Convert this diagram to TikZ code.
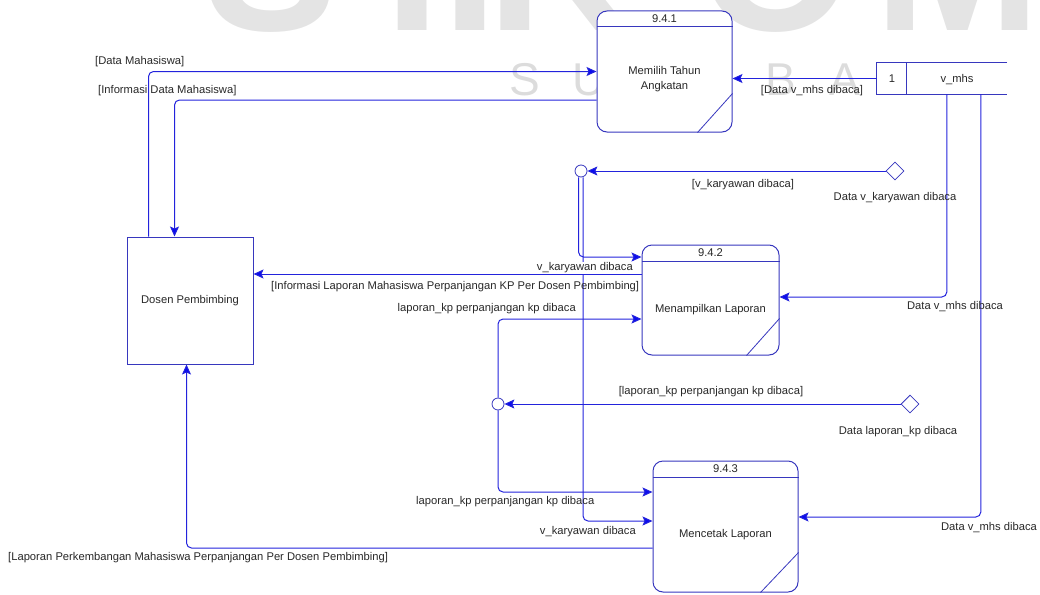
\documentclass[tikz,border=0pt]{standalone}
\usepackage{fontspec}
\setmainfont{Liberation Sans}
\usetikzlibrary{arrows.meta,shapes.geometric,calc}
\definecolor{flowblue}{RGB}{35,35,220}
\definecolor{tipblue}{RGB}{10,10,240}
\definecolor{boxblue}{RGB}{55,55,190}
\definecolor{ink}{RGB}{40,40,40}
\definecolor{wmlight}{RGB}{228,228,228}
\definecolor{wmtext}{RGB}{220,220,220}

\begin{document}
\begin{tikzpicture}[x=1pt,y=-1pt,
  lbl/.style={font=\fontsize{11.2}{13}\selectfont, text=ink, inner sep=0pt},
  proc/.style={draw=boxblue, line width=1pt, fill=white, rounded corners=10pt, inner sep=0pt},
  ext/.style={draw=boxblue, line width=1pt, fill=white, inner sep=0pt},
  flow/.style={draw=flowblue, line width=1pt, rounded corners=5pt,
    -{Stealth[length=10pt,width=9pt,inset=2pt,fill=tipblue]}},
  junc/.style={circle, draw=boxblue, line width=0.8pt, fill=white, minimum size=12pt, inner sep=0pt},
  gate/.style={diamond, draw=boxblue, line width=0.8pt, fill=white, minimum width=18pt, minimum height=18pt, inner sep=0pt},
  bigmark/.style={font=\fontsize{200}{200}\selectfont\bfseries, text=wmlight, anchor=base, inner sep=0pt},
  smallmark/.style={font=\fontsize{46}{46}\selectfont, text=wmtext, anchor=base, inner sep=0pt},
  sep/.style={draw=boxblue, line width=1pt},
  corner/.style={draw=boxblue, line width=0.8pt},
]
\useasboundingbox (0,0) rectangle (1040,594);
\clip (0,0) rectangle (1040,594);

% background watermark
\node[bigmark] (wmS) at (271,31) {S};
\node[bigmark] (wmT) at (413,31) {T};
\node[bigmark] (wmI) at (470,31) {I};
\node[bigmark] (wmK) at (560,31) {K};
\node[bigmark] (wmO) at (776,31) {O};
\node[bigmark] (wmM) at (958,31) {M};
\foreach \ch [count=\i from 0] in {S,U,R,A,B,A,Y,A}
  \node[smallmark] (wm\i) at (525+64*\i,95) {\ch};

% external entity
\node[ext, minimum width=126pt, minimum height=127pt] (dosen) at (190,300.5) {};
\node[lbl] (dosenname) at (dosen.center) {Dosen Pembimbing};

% processes
\node[proc, minimum width=135pt, minimum height=121pt] (p1) at (664.5,71.5) {};
\draw[sep] ($(p1.north west)+(0,16)$) -- ($(p1.north east)+(0,16)$);
\draw[corner] ($(p1.south east)+(0,-39)$) -- ($(p1.south east)+(-35,0)$);
\node[lbl] (p1id) at ($(p1.north)+(0,8.5)$) {9.4.1};
\node[lbl, align=center, font=\fontsize{11.2}{15}\selectfont] (p1name) at (664.5,79) {Memilih Tahun\\Angkatan};

\node[proc, minimum width=137pt, minimum height=110pt] (p2) at (710.5,300) {};
\draw[sep] ($(p2.north west)+(0,17)$) -- ($(p2.north east)+(0,17)$);
\draw[corner] ($(p2.south east)+(0,-37)$) -- ($(p2.south east)+(-33,0)$);
\node[lbl] (p2id) at ($(p2.north)+(0,8.5)$) {9.4.2};
\node[lbl] (p2name) at (710.5,310) {Menampilkan Laporan};

\node[proc, minimum width=145pt, minimum height=131pt] (p3) at (725.5,526.5) {};
\draw[sep] ($(p3.north west)+(0,17)$) -- ($(p3.north east)+(0,17)$);
\draw[corner] ($(p3.south east)+(0,-40)$) -- ($(p3.south east)+(-38,0)$);
\node[lbl] (p3id) at ($(p3.north)+(0,8.5)$) {9.4.3};
\node[lbl] (p3name) at (725.5,535) {Mencetak Laporan};

% data store
\node[minimum width=130pt, minimum height=31pt, inner sep=0pt, fill=white] (st) at (942,78.5) {};
\draw[sep] (st.north east) -- (st.north west) -- (st.south west) -- (st.south east);
\draw[sep] ($(st.north west)+(30,0)$) -- ($(st.south west)+(30,0)$);
\node[lbl] (stid) at (892,79) {1};
\node[lbl] (stname) at (957,80) {v\_mhs};

% junctions and gates
\node[junc] (j1) at (581,171) {};
\node[junc] (j2) at (498,404) {};
\node[gate] (d1) at (895,171) {};
\node[gate] (d2) at (910,404) {};

% flows
\draw[flow] ($(dosen.north west)+(22,0)$) |- (p1.west);
\draw[flow] ($(p1.west)+(0,28.5)$) -| ($(dosen.north west)+(48,0)$);
\draw[flow] (st.west) -- (p1.east |- st.west);
\draw[flow] (d1.west) -- (j1.east);
\draw[flow] ($(j1.south)+(-2.5,0)$) |- ($(p2.west)+(0,-43)$);
\draw[flow] ($(j1.south)+(2,0)$) |- ($(p3.west)+(0,-5.5)$);
\coordinate (infoout) at ($(p2.west)+(0,-26)$);
\draw[flow] (infoout) -- (dosen.east |- infoout);
\draw[flow] (j2.north) |- ($(p2.west)+(0,19)$);
\draw[flow] (j2.south) |- ($(p3.west)+(0,-34.5)$);
\draw[flow] (d2.west) -- (j2.east);
\draw[flow] ($(st.south west)+(70,0)$) |- ($(p2.east)+(0,-3)$);
\draw[flow] ($(st.south west)+(104,0)$) |- ($(p3.east)+(0,-9.5)$);
\draw[flow] ($(p3.west)+(0,21.5)$) -| ($(dosen.south west)+(60,0)$);

% flow labels
\node[lbl, anchor=west] (l1) at (95,62) {[Data Mahasiswa]};
\node[lbl, anchor=west] (l2) at (98,91) {[Informasi Data Mahasiswa]};
\node[lbl] (l3) at (812,91) {[Data v\_mhs dibaca]};
\node[lbl] (l4) at (743,185) {[v\_karyawan dibaca]};
\node[lbl] (l5) at (895,198) {Data v\_karyawan dibaca};
\node[lbl, anchor=east, fill=white, inner sep=1pt] (l6) at (634,268) {v\_karyawan dibaca};
\node[lbl, anchor=west] (l7) at (271,287) {[Informasi Laporan Mahasiswa Perpanjangan KP Per Dosen Pembimbing]};
\node[lbl, anchor=east] (l8) at (576,309) {laporan\_kp perpanjangan kp dibaca};
\node[lbl] (l9) at (955,307) {Data v\_mhs dibaca};
\node[lbl] (l10) at (711,392) {[laporan\_kp perpanjangan kp dibaca]};
\node[lbl] (l11) at (898,432) {Data laporan\_kp dibaca};
\node[lbl, anchor=west] (l12) at (416,502) {laporan\_kp perpanjangan kp dibaca};
\node[lbl, anchor=east] (l13) at (636,532) {v\_karyawan dibaca};
\node[lbl] (l14) at (989,528) {Data v\_mhs dibaca};
\node[lbl, anchor=west] (l15) at (8,558) {[Laporan Perkembangan Mahasiswa Perpanjangan Per Dosen Pembimbing]};
\end{tikzpicture}
\end{document}
